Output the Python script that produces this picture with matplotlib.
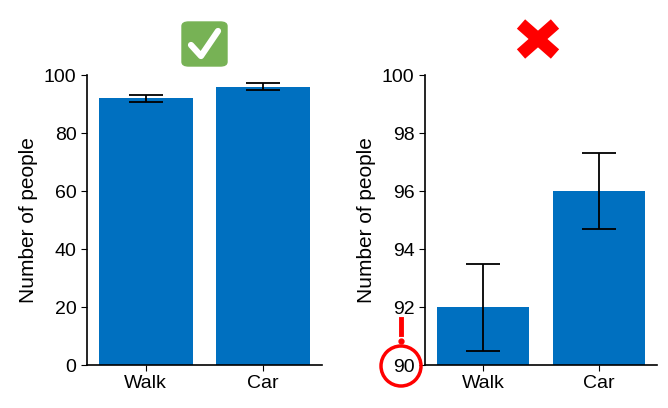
import matplotlib
matplotlib.use("Agg")
import matplotlib.pyplot as plt
from matplotlib.patches import FancyBboxPatch, Circle
from matplotlib.lines import Line2D

categories = ["Walk", "Car"]
values = [92, 96]
err_low = [1.5, 1.3]
err_high = [1.5, 1.3]
left_err = [1.2, 1.2]

plt.rcParams['font.family'] = ['Liberation Sans', 'DejaVu Sans']
W, H = 668, 408
fig = plt.figure(figsize=(6.68, 4.08), dpi=100)
blue = '#0070c0'

def ax_at(x0, x1, y0, y1):
    return fig.add_axes([x0 / W, 1 - y1 / H, (x1 - x0) / W, (y1 - y0) / H])

def style(ax):
    for s in ['top', 'right']:
        ax.spines[s].set_visible(False)
    for s in ['left', 'bottom']:
        ax.spines[s].set_linewidth(1.2)
    ax.tick_params(labelsize=14, length=4)
    ax.set_ylabel("Number of people", fontsize=15)
    ax.set_xlim(-0.5, 1.5)

ax1 = ax_at(87, 322, 75, 365)
ax1.bar(categories, values, width=0.8, color=blue, yerr=[left_err, left_err],
        capsize=12, error_kw=dict(elinewidth=1.3, capthick=1.3, ecolor='black'))
ax1.set_ylim(0, 100)
ax1.set_yticks(range(0, 101, 20))
style(ax1)

ax2 = ax_at(425, 657, 75, 365)
ax2.bar(categories, values, width=0.8, color=blue, yerr=[err_low, err_high],
        capsize=12, error_kw=dict(elinewidth=1.3, capthick=1.3, ecolor='black'))
ax2.set_ylim(90, 100)
ax2.set_yticks(range(90, 101, 2))
style(ax2)

def fx(x): return x / W
def fy(y): return 1 - y / H

# green check box
fig.patches.append(FancyBboxPatch((fx(182), fy(66)), fx(227) - fx(182), fy(22) - fy(66),
                                  boxstyle="round,pad=0,rounding_size=0.01",
                                  transform=fig.transFigure, color='#77b255'))
fig.lines.append(Line2D([fx(191), fx(201), fx(218)], [fy(45), fy(56), fy(31)],
                        transform=fig.transFigure, color='white', lw=4.5,
                        solid_capstyle='round', solid_joinstyle='round'))
# red X
for xs, ys in [((521, 555), (24, 54)), ((521, 555), (54, 24))]:
    fig.lines.append(Line2D([fx(xs[0]), fx(xs[1])], [fy(ys[0]), fy(ys[1])],
                            transform=fig.transFigure, color='#ff0000', lw=9,
                            solid_capstyle='butt'))
# red circle and exclamation
fig.patches.append(Circle((fx(401), fy(366)), 0.03, transform=fig.transFigure,
                          fill=False, edgecolor='#ff0000', lw=2.5))
fig.patches[-1].set_transform(fig.dpi_scale_trans)
fig.patches[-1].center = (401 / 100, (H - 366) / 100)
fig.patches[-1].set_radius(0.2)
fig.lines.append(Line2D([fx(401), fx(401)], [fy(319), fy(334)], transform=fig.transFigure,
                        color='#ff0000', lw=3.5))
fig.lines.append(Line2D([fx(401)], [fy(341)], transform=fig.transFigure, marker='o',
                        markersize=3.5, color='#ff0000'))

fig.savefig("out.png", dpi=100)
